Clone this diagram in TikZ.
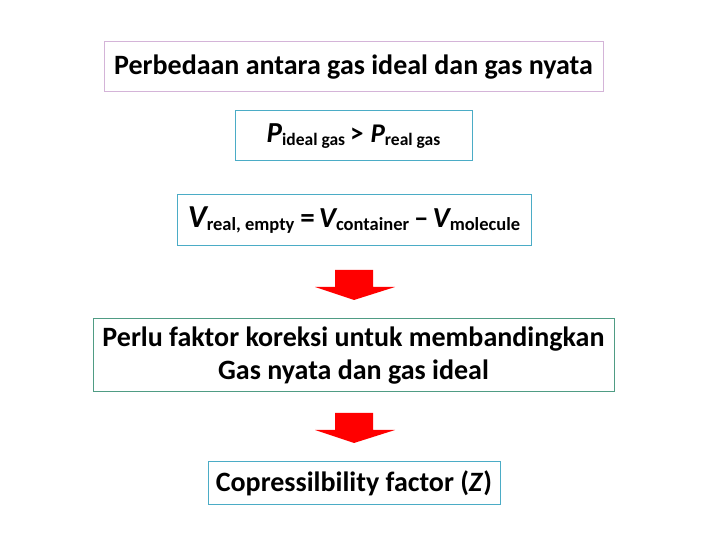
\documentclass[tikz,border=0pt]{standalone}
\usepackage{fontspec}
\setmainfont{Carlito}
\definecolor{lav}{HTML}{D4B4D8}
\definecolor{teal1}{HTML}{4BACC6}
\definecolor{green1}{HTML}{4F9C84}
\newcommand{\bigsz}[1]{\fontsize{#1}{#1}\selectfont}
\tikzset{
  box/.style={draw, line width=1pt, inner sep=0pt, align=center, font=\bfseries},
  redarrow/.style={fill=red, draw=none}
}
\begin{document}
\begin{tikzpicture}[x=1pt,y=1pt]
\useasboundingbox (0,0) rectangle (720,540);
\node[box, draw=lav, minimum width=499pt, minimum height=50pt, font=\bfseries\fontsize{28}{32}\selectfont] (b1) at (353.5,473) {Perbedaan antara gas ideal dan gas nyata};
\node[box, draw=teal1, minimum width=237pt, minimum height=50pt] (b2) at (353.5,404) {\bigsz{29}\itshape P\upshape\bigsz{17.5}\raisebox{-3pt}{ideal gas}\hspace{5pt}\bigsz{27}>\hspace{7pt}\itshape P\upshape\bigsz{17.5}\raisebox{-3pt}{real gas}};
\node[box, draw=teal1, minimum width=354pt, minimum height=51pt] (b3) at (354,319.5) {\bigsz{32}\itshape V\upshape\bigsz{18.5}\raisebox{-3pt}{real, empty}\hspace{6pt}\bigsz{29}=\hspace{4pt}\itshape V\upshape\bigsz{18.5}\raisebox{-3pt}{container}\hspace{5pt}\bigsz{29}--\hspace{4pt}\itshape V\upshape\bigsz{18.5}\raisebox{-3pt}{molecule}};
\node[box, draw=green1, minimum width=521pt, minimum height=73pt, font=\bfseries\fontsize{28}{33}\selectfont] (b4) at (353.5,184.5) {Perlu faktor koreksi untuk membandingkan\\Gas nyata dan gas ideal};
\node[box, draw=teal1, minimum width=292pt, minimum height=43pt, font=\bfseries\fontsize{28}{32}\selectfont] (b5) at (354,56.5) {Copressilbility factor (\textit{Z})};
\fill[redarrow] (335,270) -- (373,270) -- (373,253) -- (395,253) -- (354,240) -- (315,253) -- (335,253) -- cycle;
\fill[redarrow] (335,127) -- (373,127) -- (373,110) -- (395,110) -- (354,97) -- (315,110) -- (335,110) -- cycle;
\end{tikzpicture}
\end{document}
